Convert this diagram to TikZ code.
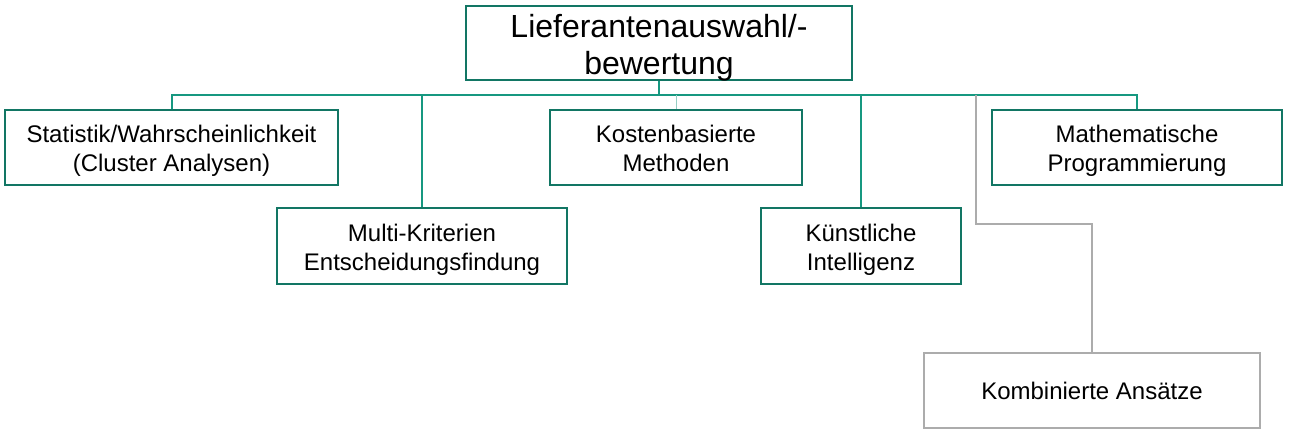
\documentclass[tikz,border=0pt]{standalone}
\usepackage{fontspec}
\setmainfont{Liberation Sans}
\definecolor{boxteal}{RGB}{18,118,100}
\definecolor{lineteal}{RGB}{22,152,128}
\definecolor{lightteal}{RGB}{150,206,196}
\definecolor{boxgrey}{RGB}{172,172,172}

\begin{document}
\begin{tikzpicture}[x=1pt,y=-1pt,
  box/.style={draw=boxteal,line width=2pt,inner sep=0pt,align=center,
    font=\fontsize{24}{29}\selectfont},
  twoline/.style={box,text height=50pt,text depth=2pt},
  conn/.style={draw=lineteal,line width=2pt},
  greyconn/.style={draw=boxgrey,line width=2pt}]
\useasboundingbox (0,0) rectangle (1290,436);
\node [box,minimum width=386pt,minimum height=74pt,text height=66pt,text depth=3pt,
  font=\fontsize{32}{37}\selectfont] (top) at (659,43) {Lieferantenauswahl/-\\bewertung};
\node [twoline,minimum width=333pt,minimum height=75pt] (stat) at (171.5,147.5) {Statistik/Wahrscheinlichkeit\\(Cluster Analysen)};
\node [twoline,minimum width=290pt,minimum height=76pt] (multi) at (422,246) {Multi-Kriterien\\Entscheidungsfindung};
\node [twoline,minimum width=252pt,minimum height=75pt] (kosten) at (676,147.5) {Kostenbasierte\\Methoden};
\node [twoline,minimum width=200pt,minimum height=76pt] (ki) at (861,246) {Künstliche\\Intelligenz};
\node [twoline,minimum width=290pt,minimum height=75pt] (math) at (1137,147.5) {Mathematische\\Programmierung};
\node [box,draw=boxgrey,minimum width=336pt,minimum height=75pt] (komb) at (1092,390.5) {Kombinierte Ansätze};

\coordinate (bar) at (0,95);
\coordinate (knick) at (976,224);
\draw [conn] (stat.north) -- (stat.north |- bar) -- (math.north |- bar) -- (math.north);
\draw [conn] (top.south) -- (top.south |- bar);
\draw [conn] (multi.north) -- (multi.north |- bar);
\draw [conn] (ki.north) -- (ki.north |- bar);
\draw [draw=lightteal,line width=1pt] (kosten.north) -- (kosten.north |- bar);
\draw [greyconn] (komb.north) |- (knick) -- (knick |- bar);
\end{tikzpicture}
\end{document}
